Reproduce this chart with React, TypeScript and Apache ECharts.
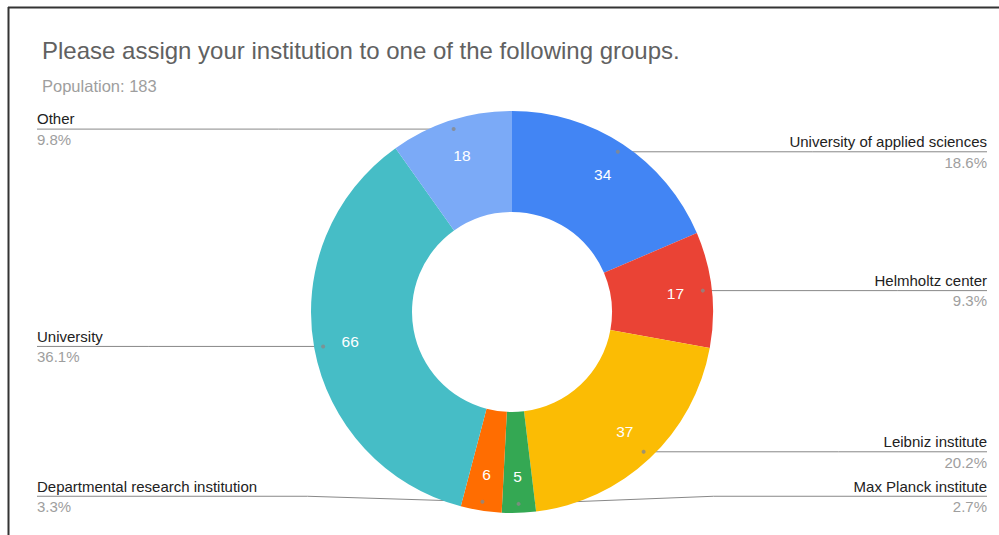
import React, { useEffect, useRef } from 'react';
import * as echarts from 'echarts';

const titleText = 'Please assign your institution to one of the following groups.';
const subtitleText = 'Population: 183';
const categories = [
  'University of applied sciences',
  'Helmholtz center',
  'Leibniz institute',
  'Max Planck institute',
  'Departmental research institution',
  'University',
  'Other',
];
const values = [34, 17, 37, 5, 6, 66, 18];
const colors = ['#4285F4', '#EA4335', '#FBBC04', '#34A853', '#FF6D01', '#46BDC6', '#7BAAF7'];

const FONT = 'Arial, "Liberation Sans", Helvetica, sans-serif';
const CX = 512;
const CY = 312;
const R_OUT = 201;
const R_IN = 100;
const R_DOT = 192;
const LABEL_BOTTOM = 514;

export default function App() {
  const ref = useRef<HTMLDivElement>(null);
  useEffect(() => {
    if (!ref.current) return;
    const chart = echarts.init(ref.current, undefined, { renderer: 'svg' });
    const total = values.reduce((a, b) => a + b, 0);
    const mids = values.map((v, i) => values.slice(0, i).reduce((a, b) => a + b, 0) + v / 2);
    const width = chart.getWidth();

    const baseData = categories.map((c, i) => ({ name: c, value: values[i], itemStyle: { color: colors[i] } }));
    const clearData = categories.map((c, i) => ({ name: c, value: values[i] }));

    const option: any = {
      animation: false,
      backgroundColor: '#ffffff',
      textStyle: { fontFamily: FONT },
      title: [
        {
          text: titleText,
          left: 37,
          top: 33,
          textStyle: { fontSize: 24, fontWeight: 'normal', color: '#616161', fontFamily: FONT },
        },
        {
          text: subtitleText,
          left: 37,
          top: 72,
          textStyle: { fontSize: 16.5, fontWeight: 'normal', color: '#9e9e9e', fontFamily: FONT },
        },
      ],
      polar: { center: [CX, CY], radius: R_OUT },
      angleAxis: { type: 'value', min: 0, max: total, startAngle: 90, clockwise: true, show: false },
      radiusAxis: { type: 'value', min: 0, max: R_OUT, show: false },
      graphic: [
        { type: 'line', shape: { x1: 8, y1: 7.5, x2: 999, y2: 7.5 }, style: { stroke: '#333', lineWidth: 2 }, silent: true },
        { type: 'line', shape: { x1: 8.5, y1: 7, x2: 8.5, y2: 535 }, style: { stroke: '#333', lineWidth: 2 }, silent: true },
      ],
      series: [
        {
          type: 'pie',
          name: 'ring',
          radius: [R_IN, R_OUT],
          center: [CX, CY],
          startAngle: 90,
          clockwise: true,
          silent: true,
          label: { show: false },
          labelLine: { show: false },
          data: baseData,
        },
        {
          type: 'pie',
          name: 'values',
          radius: [122, R_OUT],
          center: [CX, CY],
          startAngle: 90,
          clockwise: true,
          silent: true,
          itemStyle: { color: 'rgba(0,0,0,0)' },
          label: {
            show: true,
            position: 'inside',
            formatter: '{c}',
            color: '#ffffff',
            fontSize: 15.5,
            fontFamily: FONT,
          },
          labelLine: { show: false },
          data: clearData,
        },
        {
          type: 'pie',
          name: 'labels',
          left: 27,
          right: 2,
          top: 0,
          bottom: 0,
          radius: [0, R_DOT],
          center: ['50%', CY],
          startAngle: 90,
          clockwise: true,
          silent: true,
          avoidLabelOverlap: false,
          percentPrecision: 1,
          itemStyle: { color: 'rgba(0,0,0,0)' },
          label: {
            show: true,
            position: 'outside',
            alignTo: 'edge',
            edgeDistance: 10,
            formatter: (p: any) => `{n|${p.name}}\n{p|${Number(p.percent).toFixed(1)}%}`,
            rich: {
              n: { fontSize: 15, color: '#222222', lineHeight: 20.5, fontFamily: FONT },
              p: { fontSize: 15, color: '#9e9e9e', lineHeight: 20.5, fontFamily: FONT },
            },
          },
          labelLine: { show: true, length: 0, length2: 0, lineStyle: { color: '#888888', width: 1 } },
          labelLayout: (params: any) => {
            const pts = params.labelLinePoints;
            if (!pts) return {};
            const p0 = pts[0];
            const rect = params.labelRect;
            const isLeft = rect.x < width / 2;
            const naturalY = rect.y + rect.height / 2;
            const labelY = Math.min(naturalY, LABEL_BOTTOM - rect.height / 2);
            const edgeX = isLeft ? rect.x : rect.x + rect.width;
            const elbowX = p0[0] + (isLeft ? -175 : 195);
            return {
              y: labelY,
              labelLinePoints: [[p0[0], p0[1]], [elbowX, labelY], [edgeX, labelY]],
            };
          },
          data: clearData,
        },
        {
          type: 'scatter',
          coordinateSystem: 'polar',
          symbolSize: 4,
          silent: true,
          z: 5,
          itemStyle: { color: '#888888' },
          data: mids.map((m) => [R_DOT, m]),
        },
      ],
    };
    chart.setOption(option);
    return () => chart.dispose();
  }, []);
  return <div ref={ref} style={{ position: 'fixed', left: 0, top: 0, width: 999, height: 535 }} />;
}
